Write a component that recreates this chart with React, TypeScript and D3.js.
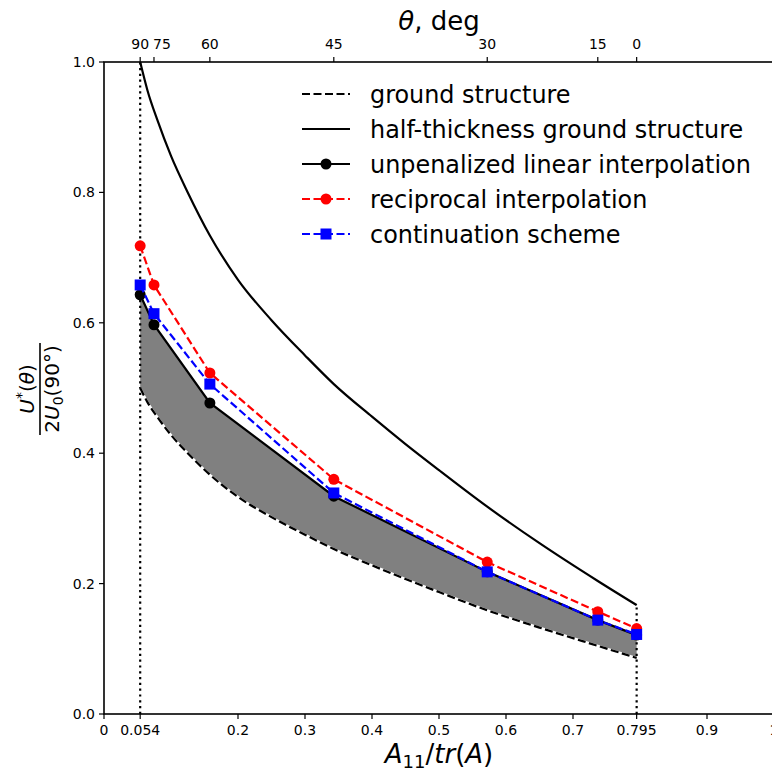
import React from "react";
import * as d3 from "d3";

// Fiber-angle positions on the A11/tr(A) axis
const thetaLabels = [90, 75, 60, 45, 30, 15, 0];
const thetaPos = [0.054, 0.0746, 0.158, 0.343, 0.572, 0.737, 0.795];

// Interpolation schemes evaluated at the angle positions
const unpenalized = [0.643, 0.597, 0.477, 0.334, 0.218, 0.144, 0.121];
const reciprocal = [0.718, 0.658, 0.523, 0.36, 0.233, 0.157, 0.131];
const continuation = [0.658, 0.614, 0.506, 0.339, 0.218, 0.144, 0.122];

// Ground structure bounds
const gsX = [0.054, 0.065, 0.08, 0.1, 0.125, 0.158, 0.2, 0.25, 0.3, 0.343, 0.4, 0.45, 0.5, 0.572, 0.65, 0.737, 0.795];
const groundStructure = [0.5, 0.478, 0.455, 0.428, 0.4, 0.367, 0.333, 0.302, 0.275, 0.253, 0.228, 0.207, 0.187, 0.159, 0.1325, 0.1045, 0.086];
const halfThickness = [1.0, 0.956, 0.91, 0.856, 0.8, 0.734, 0.666, 0.604, 0.55, 0.506, 0.456, 0.414, 0.374, 0.318, 0.262, 0.204, 0.167];

// Axis ticks
const xTicks = [0, 0.054, 0.2, 0.3, 0.4, 0.5, 0.6, 0.7, 0.795, 0.9, 1];
const xTickLabels = ["0", "0.054", "0.2", "0.3", "0.4", "0.5", "0.6", "0.7", "0.795", "0.9", "1"];
const yTicks = [0, 0.2, 0.4, 0.6, 0.8, 1.0];

const legendLabels = [
  "ground structure",
  "half-thickness ground structure",
  "unpenalized linear interpolation",
  "reciprocal interpolation",
  "continuation scheme",
];

const W = 772;
const H = 771;
const FONT = "DejaVu Sans, sans-serif";

export default function App() {
  const x = d3.scaleLinear().domain([0, 1]).range([104, 774]);
  const y = d3.scaleLinear().domain([0, 1]).range([714, 62]);

  type P = [number, number];
  const pts = (xs: number[], ys: number[]): P[] => xs.map((v, i) => [v, ys[i]]);

  const lin = d3.line<P>().x((d) => x(d[0])).y((d) => y(d[1]));
  const smooth = d3.line<P>().x((d) => x(d[0])).y((d) => y(d[1])).curve(d3.curveMonotoneX);

  const gsPts = pts(gsX, groundStructure);
  const halfPts = pts(gsX, halfThickness);
  const unpPts = pts(thetaPos, unpenalized);
  const recPts = pts(thetaPos, reciprocal);
  const conPts = pts(thetaPos, continuation);

  // Shaded band between ground structure and unpenalized scheme
  const upper = lin(unpPts) || "";
  const lower = (smooth([...gsPts].reverse()) || "").replace(/^M/, "L");
  const bandPath = upper + lower + "Z";

  const LW = 2.2;
  const dashed = "8,3.5";
  const dotted = "2.2,3.6";

  const xLo = thetaPos[0];
  const xHi = thetaPos[thetaPos.length - 1];

  const legendY = [94, 129, 164, 199, 234];
  // the 75° label sits just right of its tick so it clears the 90° label
  const topLabelShift = [0, 8, 0, 0, 0, 0, 0];

  return (
    <svg
      width={W}
      height={H}
      style={{ position: "absolute", left: 0, top: 0, background: "white" }}
      fontFamily={FONT}
    >
      <rect x={0} y={0} width={W} height={H} fill="white" />

      {/* band */}
      <path d={bandPath} fill="#808080" stroke="none" />

      {/* bounding angle markers */}
      <line x1={x(xLo)} x2={x(xLo)} y1={y(0)} y2={y(halfThickness[0])} stroke="black" strokeWidth={LW} strokeDasharray={dotted} />
      <line x1={x(xHi)} x2={x(xHi)} y1={y(0)} y2={y(halfThickness[halfThickness.length - 1])} stroke="black" strokeWidth={LW} strokeDasharray={dotted} />

      {/* ground structure */}
      <path d={smooth(gsPts) || ""} fill="none" stroke="white" strokeWidth={LW} />
      <path d={smooth(gsPts) || ""} fill="none" stroke="black" strokeWidth={LW} strokeDasharray={dashed} />
      {/* half-thickness ground structure */}
      <path d={smooth(halfPts) || ""} fill="none" stroke="black" strokeWidth={LW} />

      {/* unpenalized */}
      <path d={upper} fill="none" stroke="black" strokeWidth={LW} />
      {unpPts.map((p, i) => (
        <circle key={"u" + i} cx={x(p[0])} cy={y(p[1])} r={5.5} fill="black" />
      ))}

      {/* reciprocal */}
      <path d={lin(recPts) || ""} fill="none" stroke="red" strokeWidth={LW} strokeDasharray={dashed} />
      {recPts.map((p, i) => (
        <circle key={"r" + i} cx={x(p[0])} cy={y(p[1])} r={5.5} fill="red" />
      ))}

      {/* continuation */}
      <path d={lin(conPts) || ""} fill="none" stroke="blue" strokeWidth={LW} strokeDasharray={dashed} />
      {conPts.map((p, i) => (
        <rect key={"c" + i} x={x(p[0]) - 5.5} y={y(p[1]) - 5.5} width={11} height={11} fill="blue" />
      ))}

      {/* frame */}
      <rect x={x(0)} y={y(1)} width={x(1) - x(0)} height={y(0) - y(1)} fill="none" stroke="black" strokeWidth={1.6} />

      {/* bottom axis */}
      {xTicks.map((t, i) => (
        <g key={"xt" + i}>
          <line x1={x(t)} x2={x(t)} y1={y(0)} y2={y(0) + 5} stroke="black" strokeWidth={1.2} />
          <text x={x(t)} y={735} fontSize={14} textAnchor="middle">{xTickLabels[i]}</text>
        </g>
      ))}

      {/* top axis */}
      {thetaPos.map((t, i) => (
        <g key={"tt" + i}>
          <line x1={x(t)} x2={x(t)} y1={y(1)} y2={y(1) - 5} stroke="black" strokeWidth={1.2} />
          <text x={x(t) + topLabelShift[i]} y={49} fontSize={14} textAnchor="middle">{thetaLabels[i]}</text>
        </g>
      ))}

      {/* left axis */}
      {yTicks.map((t, i) => (
        <g key={"yt" + i}>
          <line x1={x(0)} x2={x(0) - 5} y1={y(t)} y2={y(t)} stroke="black" strokeWidth={1.2} />
          <text x={95} y={y(t) + 5} fontSize={14} textAnchor="end">{t.toFixed(1)}</text>
        </g>
      ))}

      {/* top title */}
      <text x={439} y={30} fontSize={26} textAnchor="middle">
        <tspan fontStyle="italic">θ</tspan>, deg
      </text>

      {/* x label */}
      <text x={439} y={763} fontSize={26} textAnchor="middle">
        <tspan fontStyle="italic">A</tspan>
        <tspan fontSize={18} dy={5}>11</tspan>
        <tspan dy={-5}>/</tspan>
        <tspan fontStyle="italic">tr</tspan>(<tspan fontStyle="italic">A</tspan>)
      </text>

      {/* y label */}
      <g transform="translate(40,389) rotate(-90)">
        <text x={0} y={-6} fontSize={20} textAnchor="middle">
          <tspan fontStyle="italic">U</tspan>
          <tspan fontSize={14} dy={-8}>*</tspan>
          <tspan dy={8}>(</tspan>
          <tspan fontStyle="italic">θ</tspan>)
        </text>
        <line x1={-46} x2={46} y1={0} y2={0} stroke="black" strokeWidth={1.6} />
        <text x={0} y={19} fontSize={20} textAnchor="middle">
          2<tspan fontStyle="italic">U</tspan>
          <tspan fontSize={14} dy={4}>0</tspan>
          <tspan dy={-4}>(90°)</tspan>
        </text>
      </g>

      {/* legend */}
      {legendLabels.map((lab, i) => {
        const ly = legendY[i];
        const colors = ["black", "black", "black", "red", "blue"];
        const dash = [dashed, undefined, undefined, dashed, dashed];
        return (
          <g key={"lg" + i}>
            <line x1={302} x2={350} y1={ly} y2={ly} stroke={colors[i]} strokeWidth={LW} strokeDasharray={dash[i]} />
            {i >= 2 && i <= 3 && <circle cx={326} cy={ly} r={5.5} fill={colors[i]} />}
            {i === 4 && <rect x={320.5} y={ly - 5.5} width={11} height={11} fill="blue" />}
            <text x={370} y={ly + 8.5} fontSize={23.9}>{lab}</text>
          </g>
        );
      })}
    </svg>
  );
}
